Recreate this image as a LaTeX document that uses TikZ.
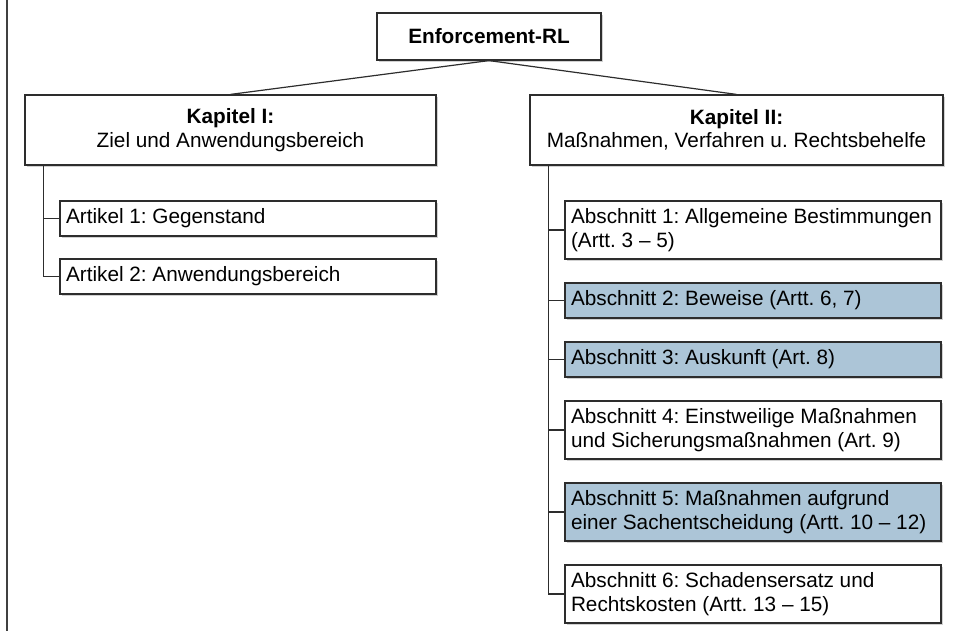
\documentclass[tikz,border=0pt]{standalone}
\usepackage{fontspec}
\setmainfont{Liberation Sans}
\usetikzlibrary{shadows}
\definecolor{secblue}{RGB}{172,197,215}
\definecolor{edgegray}{RGB}{45,45,45}
\newcommand{\myboxfont}{\fontsize{20.75}{23.5}\selectfont\frenchspacing\hyphenpenalty=10000\relax\exhyphenpenalty=10000\relax}
\begin{document}
\begin{tikzpicture}[x=1pt,y=-1pt,
  box/.style={draw=edgegray, line width=1.2pt, fill=white, inner xsep=6pt, inner ysep=0pt,
    drop shadow={shadow xshift=2pt, shadow yshift=-2pt, opacity=0.3, fill=black!60},
    font=\myboxfont},
  ctrbox/.style={box, align=center},
  leafbox/.style={box, text width=364pt, minimum width=376pt, align=flush left},
  shortbox/.style={leafbox, minimum height=35pt},
  tallbox/.style={leafbox, minimum height=58pt},
  hl/.style={fill=secblue},
  conn/.style={draw=edgegray, line width=1.2pt}]
\useasboundingbox (0,0) rectangle (953,631);
\draw[draw=black!75, line width=2pt] (7,0) -- (7,631);

\node[ctrbox, minimum width=224pt, minimum height=47pt] (root) at (489,36.5) {\textbf{Enforcement-RL}};
\node[ctrbox, minimum width=411pt, minimum height=70pt] (k1) at (230.5,130) {\textbf{Kapitel I:}\\Ziel und Anwendungsbereich};
\node[ctrbox, minimum width=413pt, minimum height=70pt] (k2) at (736.5,130) {\textbf{Kapitel II:}\\Maßnahmen, Verfahren u. Rechtsbehelfe};

\node[shortbox] (a1) at (248,218.5) {Artikel 1: Gegenstand};
\node[shortbox] (a2) at (248,276.5) {Artikel 2: Anwendungsbereich};

\node[tallbox] (s1) at (753,230) {Abschnitt 1: Allgemeine Bestimmungen\\(Artt. 3 -- 5)};
\node[shortbox, hl] (s2) at (753,300.5) {Abschnitt 2: Beweise (Artt. 6, 7)};
\node[shortbox, hl] (s3) at (753,359.5) {Abschnitt 3: Auskunft (Art. 8)};
\node[tallbox] (s4) at (753,430) {Abschnitt 4: Einstweilige Maßnahmen\\und Sicherungsmaßnahmen (Art. 9)};
\node[tallbox, hl] (s5) at (753,512) {Abschnitt 5: Maßnahmen aufgrund\\einer Sachentscheidung (Artt. 10 -- 12)};
\node[tallbox] (s6) at (753,594) {Abschnitt 6: Schadensersatz und\\Rechtskosten (Artt. 13 -- 15)};

\draw[conn] (root.south) -- (k1.north);
\draw[conn] (root.south) -- (k2.north);

\draw[conn] ([xshift=19pt]k1.south west) |- (a1.west);
\draw[conn] ([xshift=19pt]k1.south west) |- (a2.west);

\foreach \s in {s1,s2,s3,s4,s5,s6}
  \draw[conn] ([xshift=19pt]k2.south west) |- (\s.west);
\end{tikzpicture}
\end{document}
